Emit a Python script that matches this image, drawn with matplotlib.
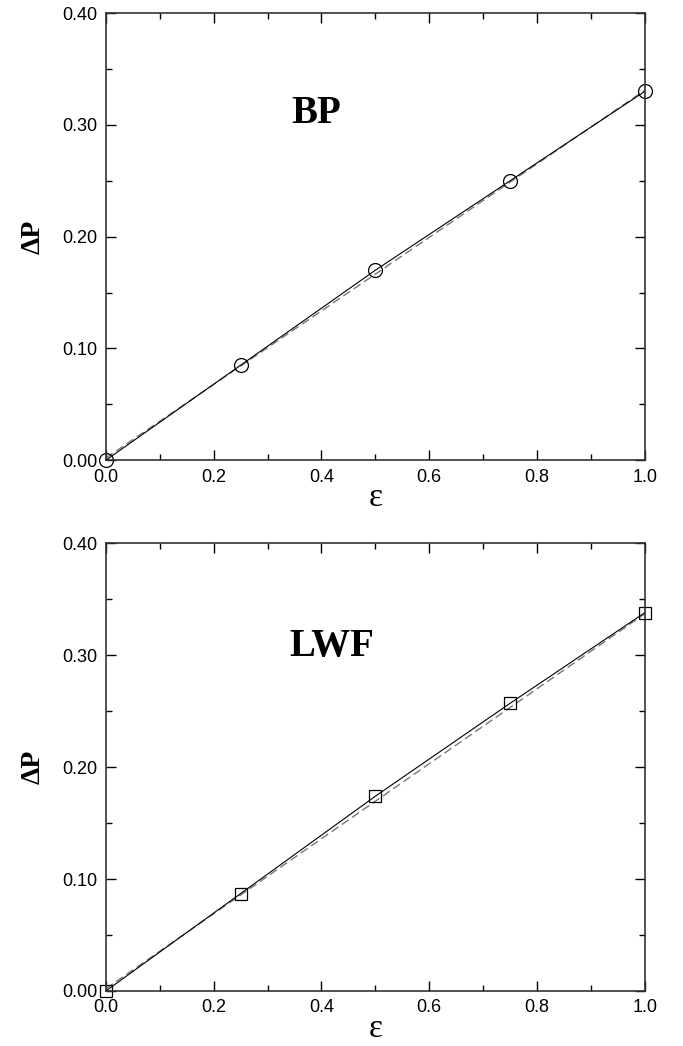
import matplotlib.pyplot as plt
import numpy as np
from matplotlib.ticker import MultipleLocator, FormatStrFormatter

eps = [0.0, 0.25, 0.5, 0.75, 1.0]
dp_bp = [0.0, 0.085, 0.170, 0.250, 0.330]
dp_lwf = [0.0, 0.087, 0.174, 0.257, 0.338]

fit_eps = [0.0, 1.0]
fit_bp = [0.002, 0.331]
fit_lwf = [0.002, 0.337]

plt.rcParams['font.family'] = ['Liberation Sans', 'DejaVu Sans']
fig = plt.figure(figsize=(6.83, 10.46), dpi=100)

panels = [
    ([0.155, 0.560, 0.789, 0.4274], dp_bp, fit_bp, 'o', 'BP', (0.39, 0.776)),
    ([0.155, 0.0526, 0.789, 0.428], dp_lwf, fit_lwf, 's', 'LWF', (0.42, 0.77)),
]

for rect, dp, fit, mk, name, pos in panels:
    ax = fig.add_axes(rect)
    ax.plot(fit_eps, fit, ls=(0, (6, 3)), color='#777777', lw=1.0)
    ax.plot(eps, dp, color='black', lw=0.8, marker=mk, ms=10 if mk == 'o' else 9,
            mfc='none', mec='black', mew=0.9, clip_on=False)
    ax.set_xlim(0, 1)
    ax.set_ylim(0, 0.4)
    ax.xaxis.set_major_locator(MultipleLocator(0.2))
    ax.xaxis.set_minor_locator(MultipleLocator(0.1))
    ax.yaxis.set_major_locator(MultipleLocator(0.1))
    ax.yaxis.set_minor_locator(MultipleLocator(0.05))
    ax.xaxis.set_major_formatter(FormatStrFormatter('%.1f'))
    ax.yaxis.set_major_formatter(FormatStrFormatter('%.2f'))
    ax.tick_params(which='both', direction='in', top=True, right=True, labelsize=13, width=1.0)
    ax.tick_params(which='major', length=7, pad=6)
    ax.tick_params(which='minor', length=4)
    for s in ax.spines.values():
        s.set_linewidth(1.2)
        s.set_color('#333333')
    ax.set_xlabel('ε', family='Liberation Serif', fontsize=24, labelpad=-2)
    ax.set_ylabel('ΔP', family='Liberation Serif', fontsize=20, fontweight='bold', labelpad=12)
    ax.text(pos[0], pos[1], name, transform=ax.transAxes, family='Liberation Serif',
            fontsize=28, fontweight='bold', ha='center', va='center')

plt.savefig('out.png', dpi=100)
